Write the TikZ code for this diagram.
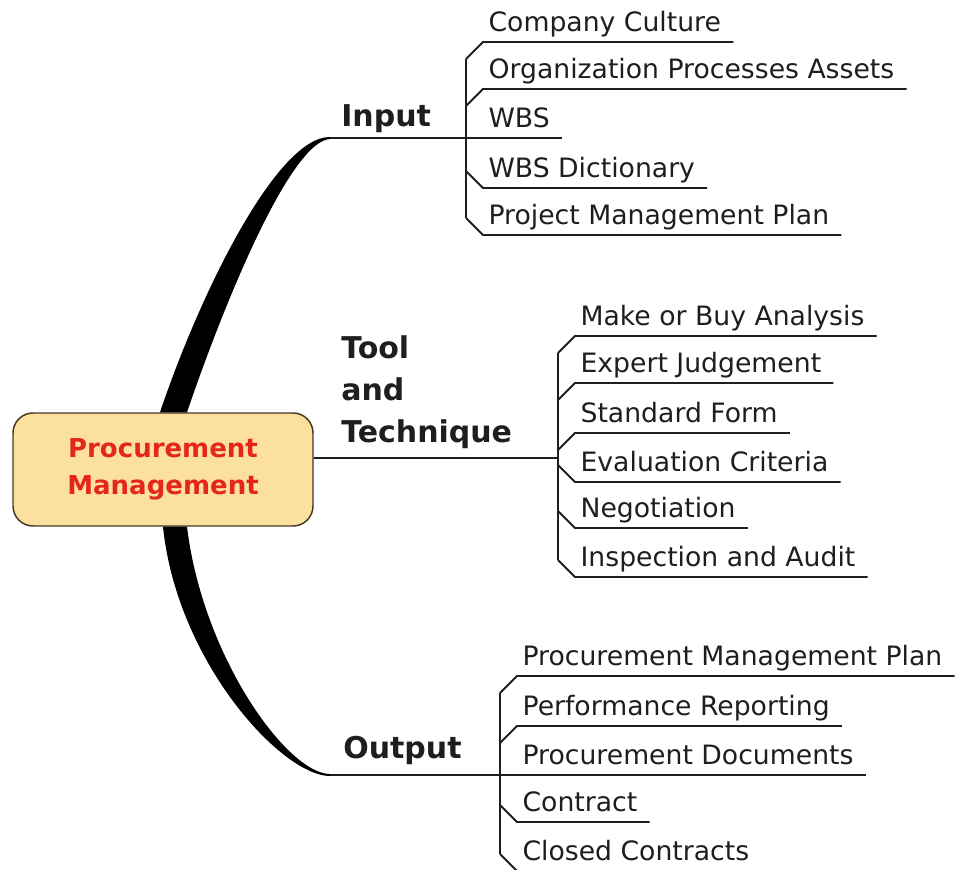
\documentclass[tikz,border=0pt]{standalone}
\usepackage{fontspec}
\setmainfont{DejaVu Sans}
\usetikzlibrary{calc}
\definecolor{rootfill}{RGB}{252,224,158}
\definecolor{rootred}{RGB}{228,38,30}
\definecolor{rootline}{RGB}{70,55,35}
\definecolor{leafink}{RGB}{30,30,30}
\tikzset{
  root/.style={draw=rootline,line width=1.1pt,fill=rootfill,rounded corners=15pt,
    minimum width=225pt,minimum height=84.75pt,align=center,text=rootred,
    font=\fontsize{19.5}{27.5}\selectfont\bfseries},
  branch/.style={inner sep=0pt,align=left,text=leafink,font=\fontsize{22.5}{31.5}\selectfont\bfseries},
  leaf/.style={anchor=south west,inner xsep=4pt,inner ysep=2.8pt,text depth=4.7pt,text=leafink,
    font=\fontsize{20}{24}\selectfont},
  twig/.style={line width=1.4pt,draw=leafink}
}
\begin{document}
\begin{tikzpicture}[x=0.75pt,y=-0.75pt]
\useasboundingbox (0,0) rectangle (958,870);
\node[root] (pm) at (163,469.5) {Procurement\\Management};

\coordinate (inA) at (330,138);
\coordinate (inF) at (466,138);
\coordinate (toF) at (558,458);
\coordinate (outA) at (330,775);
\coordinate (outF) at (500,775);

\node[branch,anchor=base west] (input) at (341,127) {Input};
\node[branch,anchor=west] (tool) at (341,392) {Tool\\and\\Technique};
\node[branch,anchor=base west] (output) at (343,758) {Output};

\fill ([xshift=-2.25pt]pm.north) .. controls (202,288) and (278,136.5) .. ([yshift=0.75pt]inA)
  -- ([yshift=-0.75pt]inA) .. controls (292,141) and (228,292) .. ([xshift=18pt]pm.north) -- cycle;
\fill (pm.south) .. controls (177,662) and (282,776) .. ([yshift=-0.75pt]outA)
  -- ([yshift=0.75pt]outA) .. controls (288,774) and (203,658) .. ([xshift=18pt]pm.south) -- cycle;

\draw[twig] (inA) -- (inF);
\draw[twig] (pm.east |- toF) -- (toF);
\draw[twig] (outA) -- (outF);

\node[leaf] (cc) at (483,42) {Company Culture};
\node[leaf] (opa) at (483,89) {Organization Processes Assets};
\node[leaf] (wbs) at (483,138) {WBS};
\node[leaf] (wbsd) at (483,188) {WBS Dictionary};
\node[leaf] (pmp) at (483,235) {Project Management Plan};

\draw[twig] ([shift={(-17,17)}]cc.south west) -- ([shift={(-17,-17)}]pmp.south west);
\draw[twig] ([shift={(-17,17)}]cc.south west) -- (cc.south west) -- ([xshift=5pt]cc.south east);
\draw[twig] ([shift={(-17,17)}]opa.south west) -- (opa.south west) -- ([xshift=5pt]opa.south east);
\draw[twig] (inF) -- (wbs.south west) -- ([xshift=5pt]wbs.south east);
\draw[twig] ([shift={(-17,-17)}]wbsd.south west) -- (wbsd.south west) -- ([xshift=5pt]wbsd.south east);
\draw[twig] ([shift={(-17,-17)}]pmp.south west) -- (pmp.south west) -- ([xshift=5pt]pmp.south east);

\node[leaf] (mba) at (575,336) {Make or Buy Analysis};
\node[leaf] (ej) at (575,383) {Expert Judgement};
\node[leaf] (sf) at (575,433) {Standard Form};
\node[leaf] (ec) at (575,482) {Evaluation Criteria};
\node[leaf] (neg) at (575,528) {Negotiation};
\node[leaf] (ia) at (575,577) {Inspection and Audit};

\draw[twig] ([shift={(-17,17)}]mba.south west) -- ([shift={(-17,-17)}]ia.south west);
\draw[twig] ([shift={(-17,17)}]mba.south west) -- (mba.south west) -- ([xshift=5pt]mba.south east);
\draw[twig] ([shift={(-17,17)}]ej.south west) -- (ej.south west) -- ([xshift=5pt]ej.south east);
\draw[twig] ([shift={(-17,17)}]sf.south west) -- (sf.south west) -- ([xshift=5pt]sf.south east);
\draw[twig] ([shift={(-17,-17)}]ec.south west) -- (ec.south west) -- ([xshift=5pt]ec.south east);
\draw[twig] ([shift={(-17,-17)}]neg.south west) -- (neg.south west) -- ([xshift=5pt]neg.south east);
\draw[twig] ([shift={(-17,-17)}]ia.south west) -- (ia.south west) -- ([xshift=5pt]ia.south east);

\node[leaf] (pmplan) at (517,676) {Procurement Management Plan};
\node[leaf] (pr) at (517,726) {Performance Reporting};
\node[leaf] (pd) at (517,775) {Procurement Documents};
\node[leaf] (con) at (517,822) {Contract};
\node[leaf] (cls) at (517,871) {Closed Contracts};

\draw[twig] ([shift={(-17,17)}]pmplan.south west) -- ([shift={(-17,-17)}]cls.south west);
\draw[twig] ([shift={(-17,17)}]pmplan.south west) -- (pmplan.south west) -- ([xshift=5pt]pmplan.south east);
\draw[twig] ([shift={(-17,17)}]pr.south west) -- (pr.south west) -- ([xshift=5pt]pr.south east);
\draw[twig] (outF) -- (pd.south west) -- ([xshift=5pt]pd.south east);
\draw[twig] ([shift={(-17,-17)}]con.south west) -- (con.south west) -- ([xshift=5pt]con.south east);
\draw[twig] ([shift={(-17,-17)}]cls.south west) -- (cls.south west) -- ([xshift=5pt]cls.south east);
\end{tikzpicture}
\end{document}
